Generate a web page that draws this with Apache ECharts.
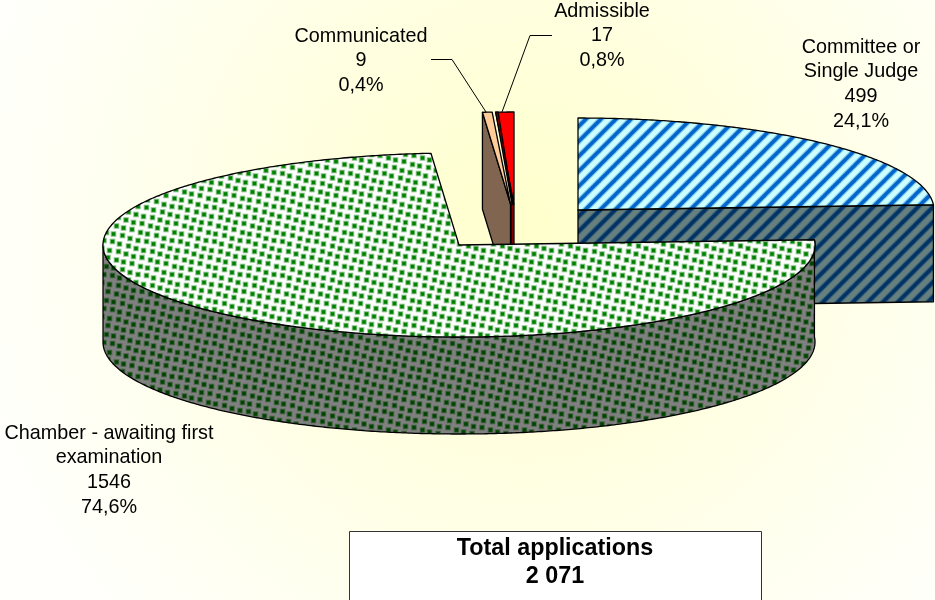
<!DOCTYPE html>
<html>
<head>
<meta charset="utf-8" />
<script src="https://cdn.jsdelivr.net/npm/echarts@6/dist/echarts.min.js"></script>
<style>
  html, body { margin: 0; padding: 0; background: #fff; }
  #chart { width: 935px; height: 600px; }
</style>
</head>
<body>
<div id="chart"></div>
<script>
// data
const categories = ["Committee or\nSingle Judge", "Chamber - awaiting first\nexamination", "Communicated", "Admissible"];
const counts = [499, 1546, 9, 17];
const percentLabels = ["24,1%", "74,6%", "0,4%", "0,8%"];
const boxTitle = "Total applications";
const boxValue = "2 071";

// pie shape
const rx = 356;
const ry = 92;
const depth = 97;
const centers = [[578, 210], [459, 245], [510.5, 204], [514, 204]];
const drawOrder = [0, 3, 2, 1];
const labelPos = [[861, 35], [109, 421], [361, 24], [602, -1]];
const leaders = [
  [[431, 59.5], [452, 59.5], [486, 112]],
  [[552, 35.5], [530, 35.5], [502, 112]],
];
const dotShiftX = [0, 0.5, -0.5, 0.5, 0, -0.5, 0.5, 0, -0.5, 0, 0.5, -0.5, 0, 0.5, -0.5, 0.5, 0];
const dotShiftY = [0.5, -0.5, 0, 0, 0.5, 0.5, -0.5, 0, 0.5, -0.5, 0, 0, -0.5, 0.5, 0, -0.5, 0.5];

const total = counts.reduce((a, b) => a + b, 0);

function sliceAngles(i) {
  let sum = 0;
  for (let k = 0; k < i; k++) sum += counts[k];
  return [(sum / total) * 360, ((sum + counts[i]) / total) * 360];
}

function rim(c, deg, dy) {
  const a = (deg * Math.PI) / 180;
  return [c[0] + rx * Math.sin(a), c[1] - ry * Math.cos(a) + (dy || 0)];
}

function arc(c, from, to, dy) {
  const pts = [];
  const n = Math.max(2, Math.ceil(Math.abs(to - from) * 2));
  for (let k = 0; k <= n; k++) {
    pts.push(rim(c, from + ((to - from) * k) / n, dy));
  }
  return pts;
}

function tile(size, draw) {
  const cv = document.createElement("canvas");
  cv.width = size;
  cv.height = size;
  draw(cv.getContext("2d"), size);
  return { image: cv, repeat: "repeat" };
}

function hatch(bg, fg) {
  return tile(15, function (ctx, s) {
    ctx.fillStyle = bg;
    ctx.fillRect(0, 0, s, s);
    ctx.strokeStyle = fg;
    [[5.8, 0.4], [3.4, 1]].forEach(function (pass) {
      ctx.lineWidth = pass[0];
      ctx.globalAlpha = pass[1];
      for (let k = -s; k <= s * 2; k += s) {
        ctx.beginPath();
        ctx.moveTo(k - 2, s + 2);
        ctx.lineTo(k + s + 2, -2);
        ctx.stroke();
      }
    });
  });
}

function dots(bg, fg) {
  // tilted lattice, closes up on a 34px tile
  return tile(34, function (ctx, s) {
    ctx.fillStyle = bg;
    ctx.fillRect(0, 0, s, s);
    ctx.fillStyle = fg;
    for (let k = 0; k < 17; k++) {
      const px = ((k * 8) % s) + dotShiftX[k];
      const py = ((k * 2) % s) + dotShiftY[k];
      for (let ox = -s; ox <= s; ox += s) {
        for (let oy = -s; oy <= s; oy += s) {
          ctx.globalAlpha = 0.45;
          ctx.fillRect(px + ox - 0.8, py + oy - 0.8, 5.6, 5.6);
          ctx.globalAlpha = 1;
          ctx.fillRect(px + ox + 0.2, py + oy + 0.2, 3.6, 3.6);
        }
      }
    }
  });
}

const topFills = [hatch("#CCFFFF", "#0066CC"), dots("#FFFFFF", "#008000"), "#FFCC99", "#FF0000"];
const sideFills = [hatch("#668080", "#003366"), dots("#808080", "#004400"), "#806650", "#800000"];

function poly(points, fill) {
  return {
    type: "polygon",
    shape: { points: points },
    style: { fill: fill, stroke: "#000", lineWidth: 1.3, lineJoin: "round" },
  };
}

function renderSlice(params, api) {
  const i = drawOrder[params.dataIndex];
  const c = centers[i];
  const ang = sliceAngles(i);
  const start = ang[0];
  const end = ang[1];
  const children = [];
  const top = [c].concat(arc(c, start, end));

  if (i === 0) {
    // cut face of the blue slice, seen from the front
    children.push(poly([c, rim(c, end), rim(c, end, depth), [c[0], c[1] + depth]], sideFills[i]));
    children.push(poly(top, topFills[i]));
  } else if (i === 1) {
    // outer wall of the large slice
    const wallEnd = 270;
    const wall = arc(c, start, wallEnd).concat(arc(c, wallEnd, start, depth));
    children.push(poly(wall, sideFills[i]));
    children.push(poly(top, topFills[i]));
  } else if (i === 2) {
    children.push(poly([c, rim(c, start), rim(c, start, depth), [c[0], c[1] + depth]], sideFills[i]));
    children.push(poly(top, topFills[i]));
  } else {
    children.push(poly([[c[0] - 3, c[1]], c, [c[0], c[1] + depth], [c[0] - 3, c[1] + depth]], sideFills[i]));
    children.push(poly(top, topFills[i]));
    // thin dark sliver along the red slice's left edge
    children.push(poly([rim(c, start), rim(c, start + 0.4), [c[0] - 1, c[1]], [c[0] - 2, c[1]]], sideFills[i]));
  }
  return { type: "group", children: children };
}

const labelElements = categories.map(function (name, i) {
  return {
    type: "text",
    x: labelPos[i][0],
    y: labelPos[i][1],
    style: {
      text: name + "\n" + counts[i] + "\n" + percentLabels[i],
      font: '19.8px "Liberation Sans", Arial, sans-serif',
      lineHeight: 24.6,
      fill: "#000",
      align: "center",
      verticalAlign: "top",
    },
  };
});

const leaderElements = leaders.map(function (pts) {
  return {
    type: "polyline",
    shape: { points: pts },
    style: { stroke: "#000", lineWidth: 1, fill: "none" },
  };
});

const boxElements = [
  {
    type: "rect",
    shape: { x: 349.5, y: 531.5, width: 412, height: 90 },
    style: { fill: "#FFFFFF", stroke: "#333", lineWidth: 1 },
  },
  {
    type: "text",
    x: 555,
    y: 535,
    style: {
      text: boxTitle + "\n" + boxValue,
      font: 'bold 23.3px "Liberation Sans", Arial, sans-serif',
      lineHeight: 28,
      fill: "#000",
      align: "center",
      verticalAlign: "top",
    },
  },
];

const myChart = echarts.init(document.getElementById("chart"), null, { renderer: "canvas" });

const option = {
  animation: false,
  backgroundColor: new echarts.graphic.RadialGradient(0.56, 0.38, 0.95, [
    { offset: 0, color: "#FFFFCC" },
    { offset: 0.6, color: "#FFFFEA" },
    { offset: 1, color: "#FFFFFC" },
  ]),
  graphic: leaderElements.concat(labelElements, boxElements),
  series: [
    {
      type: "custom",
      coordinateSystem: "none",
      silent: true,
      renderItem: renderSlice,
      data: drawOrder.map(function (i) {
        return [counts[i]];
      }),
    },
  ],
};

myChart.setOption(option);
</script>
</body>
</html>
